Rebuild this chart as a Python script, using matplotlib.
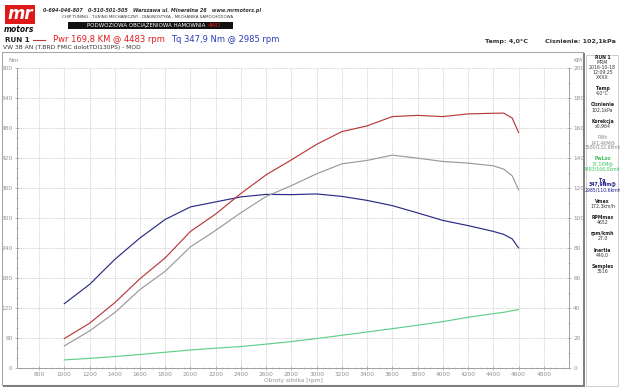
import numpy as np
import matplotlib
matplotlib.use('Agg')
import matplotlib.pyplot as plt
from matplotlib.patches import Rectangle
from matplotlib.ticker import MultipleLocator

# dyno run readings
rpm = [1000, 1200, 1400, 1600, 1800, 2000, 2200, 2400, 2600, 2800, 3000,
       3200, 3400, 3600, 3800, 4000, 4200, 4400, 4483, 4550, 4600]
torque_nm = [128.6, 167, 217, 260, 297, 322, 332, 342, 347, 346.5, 347.9,
             343, 335, 324.5, 310, 295, 284.6, 273, 267, 258, 240]
power_km = [19.6, 29.8, 43.5, 59.5, 73.4, 91, 102.6, 116.3, 128.7, 138.7, 149,
            157.5, 161.3, 167.5, 168.3, 167.5, 169.3, 169.7, 169.8, 166.5, 156.9]
wheel_km = [14.7, 24.7, 36.9, 52.3, 64.5, 80.7, 91.7, 103.5, 114.3, 121.5, 129.4,
            136, 138.3, 141.8, 139.8, 137.6, 136.5, 134.7, 132.5, 128, 118.8]
loss_km = [5.4, 6.4, 7.6, 9, 10.5, 12, 13.2, 14.3, 15.9, 17.6, 19.6,
           21.8, 24, 26.2, 28.5, 30.9, 33.8, 36.2, 37.1, 38.2, 38.9]

x_ticks = list(range(800, 4801, 200))
nm_ticks = list(range(0, 601, 60))
km_ticks = list(range(0, 201, 20))

# side panel: groups of (text, weight, colour)
dark = '#333333'
side_panel = [
    [('RUN 1', 'bold', '#222222'), ('MRM', 'normal', dark), ('2016-10-18', 'normal', dark),
     ('12:09:25', 'normal', dark), ('XXXX', 'normal', dark)],
    [('Temp', 'bold', '#222222'), ('4,0°C', 'normal', dark)],
    [('Cisnienie', 'bold', '#222222'), ('102,1kPa', 'normal', dark)],
    [('Korekcja', 'bold', '#222222'), ('x0,964', 'normal', dark)],
    [('PWh', 'normal', '#888888'), ('141,4KM@', 'normal', '#888888'),
     ('3580/132,6kmh', 'normal', '#888888')],
    [('PwLos', 'bold', '#3cc060'), ('37,1KM@', 'normal', '#3cc060'),
     ('4483/166,0kmh', 'normal', '#3cc060')],
    [('Tq', 'bold', '#1c1c8c'), ('347,9Nm@', 'bold', '#1c1c8c'),
     ('2985/110,6kmh', 'normal', '#1c1c8c')],
    [('Vmax', 'bold', '#222222'), ('172,3km/h', 'normal', dark)],
    [('RPMmax', 'bold', '#222222'), ('4652', 'normal', dark)],
    [('rpm/kmh', 'bold', '#222222'), ('27,0', 'normal', dark)],
    [('Inertia', 'bold', '#222222'), ('440,0', 'normal', dark)],
    [('Samples', 'bold', '#222222'), ('3516', 'normal', dark)],
]

W, H = 620, 387
fig = plt.figure(figsize=(W / 100, H / 100), dpi=100)


def fx(px):
    return px / W


def fy(py):
    return 1 - py / H


# outer chart frame with shadow
fig.patches.append(Rectangle((fx(2), fy(385)), fx(581), (385 - 52) / H, transform=fig.transFigure,
                             fill=False, edgecolor='#a8a8a8', linewidth=0.8))
fig.patches.append(Rectangle((fx(3), fy(386.5)), fx(582), 1.6 / H, transform=fig.transFigure,
                             facecolor='#808080', edgecolor='none'))
fig.patches.append(Rectangle((fx(583), fy(386.5)), fx(1.6), (386.5 - 53) / H, transform=fig.transFigure,
                             facecolor='#808080', edgecolor='none'))
# side panel
fig.patches.append(Rectangle((fx(586), fy(386)), fx(32), (386 - 55) / H, transform=fig.transFigure,
                             fill=False, edgecolor='#c8c8c8', linewidth=0.6))

ax = fig.add_axes([fx(17), fy(368), fx(569 - 17), (368 - 67.8) / H])
ax.plot(rpm, torque_nm, color='#2b2b86', linewidth=0.85)
ax.set_xlim(625, 5000)
ax.set_ylim(0, 600)

ax2 = ax.twinx()
ax2.plot(rpm, wheel_km, color='#9a9a9a', linewidth=0.85)
ax2.plot(rpm, loss_km, color='#5fd08a', linewidth=0.85)
ax2.plot(rpm, power_km, color='#b83a3a', linewidth=0.85)
ax2.set_ylim(0, 200)

for a in (ax, ax2):
    for s in a.spines.values():
        s.set_color('#a0a0a0')
        s.set_linewidth(0.6)
    a.spines['top'].set_visible(False)

ax.set_xticks(x_ticks)
ax.xaxis.set_minor_locator(MultipleLocator(50))
ax.set_yticks(nm_ticks)
ax.yaxis.set_minor_locator(MultipleLocator(20))
ax2.set_yticks(km_ticks)
ax2.yaxis.set_minor_locator(MultipleLocator(10))
for a in (ax, ax2):
    a.tick_params(which='both', colors='#a0a0a0', labelcolor='#909090', labelsize=4.2,
                  direction='inout', pad=1.5)
    a.tick_params(which='major', length=3, width=0.5)
    a.tick_params(which='minor', length=1.5, width=0.4)

ax.grid(True, which='major', color='#c4c4c4', linestyle=(0, (1, 1.2)), linewidth=0.6)
ax.set_axisbelow(True)
ax.set_xlabel('Obroty silnika [rpm]', fontsize=4.2, color='#909090', labelpad=0.5)

fig.text(fx(8), fy(61), 'Nm', fontsize=4.2, color='#909090', va='center')
fig.text(fx(573), fy(61), 'KM', fontsize=4.2, color='#909090', va='center')

# logo
fig.patches.append(Rectangle((fx(5), fy(24)), fx(30), 19 / H, transform=fig.transFigure,
                             facecolor='#e01818', edgecolor='none'))
fig.text(fx(20), fy(14), 'mr', fontsize=12, color='white', fontweight='bold', fontstyle='italic',
         ha='center', va='center')
fig.text(fx(19), fy(29.5), 'motors', fontsize=5.5, color='#111111', fontweight='bold', fontstyle='italic',
         ha='center', va='center')

fig.text(fx(43), fy(10.5), '0-694-046-807   0-510-501-505   Warszawa ul. Mineralna 26   www.mrmotors.pl',
         fontsize=3.5, fontweight='bold', fontstyle='italic', color='#333333', va='center')
fig.text(fx(148), fy(16.7), 'CHIP TUNING - TUNING MECHANICZNY - DIAGNOSTYKA - MECHANIKA SAMOCHODOWA',
         fontsize=2.9, color='#333333', ha='center', va='center')
fig.patches.append(Rectangle((fx(68), fy(28.5)), fx(165), 6 / H, transform=fig.transFigure,
                             facecolor='#111111', edgecolor='none'))
fig.text(fx(205), fy(25.5), 'PODWOZIOWA OBCIĄŻENIOWA HAMOWNIA', fontsize=4.0, color='white',
         ha='right', va='center')
fig.text(fx(208), fy(25.5), '4WD', fontsize=4.0, color='#e02020', ha='left', va='center')

fig.text(fx(5), fy(40), 'RUN 1', fontsize=5.2, fontweight='bold', color='#222222', va='center')
fig.lines.append(plt.Line2D([fx(33), fx(45)], [fy(40), fy(40)], transform=fig.transFigure,
                            color='#b83a3a', linewidth=0.8))
fig.text(fx(53), fy(40), 'Pwr 169,8 KM @ 4483 rpm', fontsize=6.0, color='#e01c1c', va='center')
fig.text(fx(171), fy(40), 'Tq 347,9 Nm @ 2985 rpm', fontsize=6.0, color='#2a3cb8', va='center')
fig.text(fx(485), fy(41), 'Temp: 4,0°C', fontsize=4.6, fontweight='bold', color='#333333', va='center')
fig.text(fx(616), fy(41), 'Cisnienie: 102,1kPa', fontsize=4.6, fontweight='bold', color='#333333',
         va='center', ha='right')
fig.text(fx(3), fy(47.7), 'VW 3B AN (T.BRD FMIC dolotTDI130PS) - MOD', fontsize=4.3, color='#333333',
         va='center')

y = 57.7
for group in side_panel:
    for txt, wt, col in group:
        fig.text(fx(602.5), fy(y), txt, fontsize=3.3, fontweight=wt, color=col, ha='center', va='center')
        y += 4.9
    y += 6.5

fig.savefig('out.png', dpi=100)
